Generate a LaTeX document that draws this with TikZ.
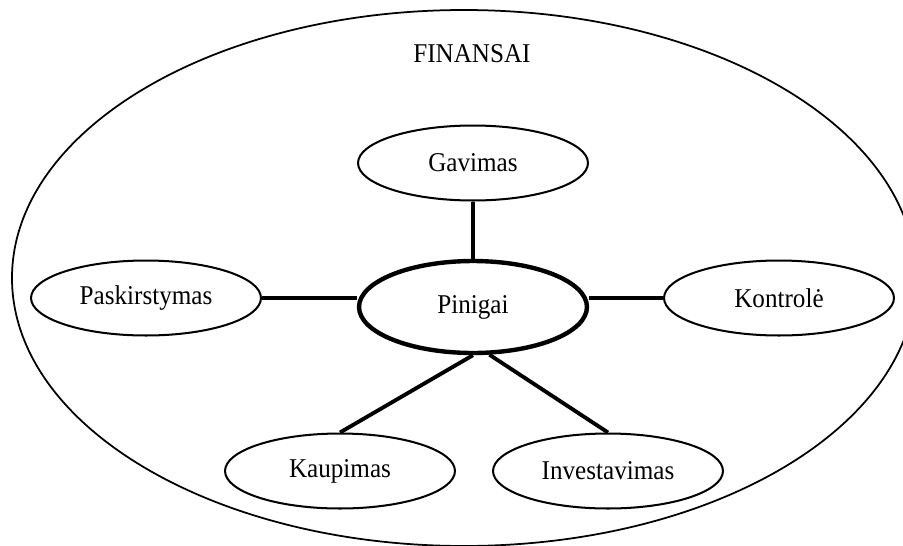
\documentclass[tikz,border=0pt]{standalone}
\usepackage{fontspec}
\setmainfont{Liberation Serif}
\usetikzlibrary{shapes.geometric}

% labels are set slightly taller than the font's natural shape
\newcommand{\tallbl}[1]{\scalebox{1}[1.08]{#1}}

\begin{document}
\begin{tikzpicture}[
  x=0.02cm, y=-0.02cm,
  every node/.style={font=\fontsize{14.3}{17}\selectfont},
  item/.style={ellipse, draw, line width=1.15pt, inner sep=0pt,
               minimum width=4.6cm, minimum height=1.5cm},
  core/.style={ellipse, draw, line width=2.5pt, inner sep=0pt,
               minimum width=4.56cm, minimum height=1.84cm},
  link/.style={line width=2.2pt},
  frame/.style={line width=1pt}
]
  \useasboundingbox (0,0) rectangle (903,545);
  \clip (0,0) rectangle (903,545);

  % outer domain
  \draw[frame] (464,278) ellipse [x radius=452, y radius=268];
  \node (fin) at (472,54) {\tallbl{FINANSAI}};

  % central notion and its functions
  \node[core] (pin) at (473,307) {\tallbl{Pinigai}};
  \node[item] (gav) at (473,163) {\tallbl{Gavimas}};
  \node[item] (pas) at (146,298) {\tallbl{Paskirstymas}};
  \node[item] (kon) at (779,298) {\tallbl{Kontrolė}};
  \node[item] (kau) at (340,471) {\tallbl{Kaupimas}};
  \node[item] (inv) at (608,471) {\tallbl{Investavimas}};

  % connectors
  \draw[link] (gav.south) -- (pin.north);
  \draw[link] (pas.east) -- (pin.west |- pas.east);
  \draw[link] (kon.west) -- (pin.east |- kon.west);
  \draw[link] (pin.south) -- (kau.north);
  \draw[link] (pin.-71) -- (inv.north);
\end{tikzpicture}
\end{document}
